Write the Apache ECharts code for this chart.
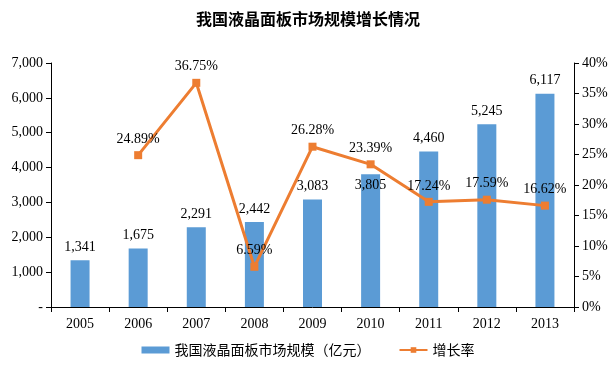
<!DOCTYPE html>
<html><head><meta charset="utf-8">
<script src="https://cdn.jsdelivr.net/npm/echarts@6/dist/echarts.min.js"></script>
<style>html,body{margin:0;padding:0;background:#fff}#c{width:616px;height:366px}</style>
</head><body><div id="c"></div>
<script>
var categories = ['2005','2006','2007','2008','2009','2010','2011','2012','2013'];
var marketSize = [1341,1675,2291,2442,3083,3805,4460,5245,6117];
var growthRate = [null,24.89,36.75,6.59,26.28,23.39,17.24,17.59,16.62];
var seriesNames = ['我国液晶面板市场规模（亿元）','增长率'];
var titleText = '我国液晶面板市场规模增长情况';

var serif = '"Liberation Serif","Times New Roman",serif';
var chart = echarts.init(document.getElementById('c'));
var barData = marketSize.map(function(v,i){
  var d = {value:v};
  if (categories[i]==='2010') d.label = {position:'insideTop', offset:[0,-2]};
  return d;
});
chart.setOption({
  animation:false,
  title:{text:titleText,left:'center',top:6,textStyle:{fontFamily:'"Noto Sans CJK SC",sans-serif',fontSize:16,fontWeight:'bold',color:'#000'}},
  legend:{bottom:4,left:'center',itemGap:28,textStyle:{fontFamily:'"Noto Sans CJK SC",sans-serif',fontSize:14,color:'#000'},
    data:[{name:seriesNames[0],icon:'rect',itemWidth:28,itemHeight:6},{name:seriesNames[1]}],itemWidth:28,itemHeight:7},
  grid:{left:51,right:42,top:63,bottom:59},
  xAxis:{type:'category',data:categories,
    axisLine:{lineStyle:{color:'#000'}},axisTick:{show:true,length:5,lineStyle:{color:'#000'}},
    axisLabel:{fontFamily:serif,fontSize:14,color:'#000',margin:10}},
  yAxis:[
    {type:'value',min:0,max:7000,interval:1000,splitLine:{show:false},
     axisLine:{show:true,lineStyle:{color:'#000'}},axisTick:{show:true,length:5,lineStyle:{color:'#000'}},
     axisLabel:{fontFamily:serif,fontSize:14,color:'#000',margin:8,
       formatter:function(v){return v===0?'-':v.toLocaleString('en-US');}}},
    {type:'value',min:0,max:40,interval:5,splitLine:{show:false},
     axisLine:{show:true,lineStyle:{color:'#000'}},axisTick:{show:true,length:5,lineStyle:{color:'#000'}},
     axisLabel:{fontFamily:serif,fontSize:14,color:'#000',margin:8,formatter:'{value}%'}}
  ],
  series:[
    {name:seriesNames[0],type:'bar',data:barData,barWidth:19,itemStyle:{color:'#5B9BD5'},
     label:{show:true,position:'top',distance:6,fontFamily:serif,fontSize:14,color:'#000',
       formatter:function(p){return p.value.toLocaleString('en-US');}}},
    {name:seriesNames[1],type:'line',yAxisIndex:1,data:growthRate,symbol:'rect',symbolSize:8,
     lineStyle:{color:'#ED7D31',width:3},itemStyle:{color:'#ED7D31'},
     label:{show:true,position:'top',distance:5,fontFamily:serif,fontSize:14,color:'#000',
       formatter:function(p){return p.value.toFixed(2)+'%';}}}
  ]
});
</script></body></html>
